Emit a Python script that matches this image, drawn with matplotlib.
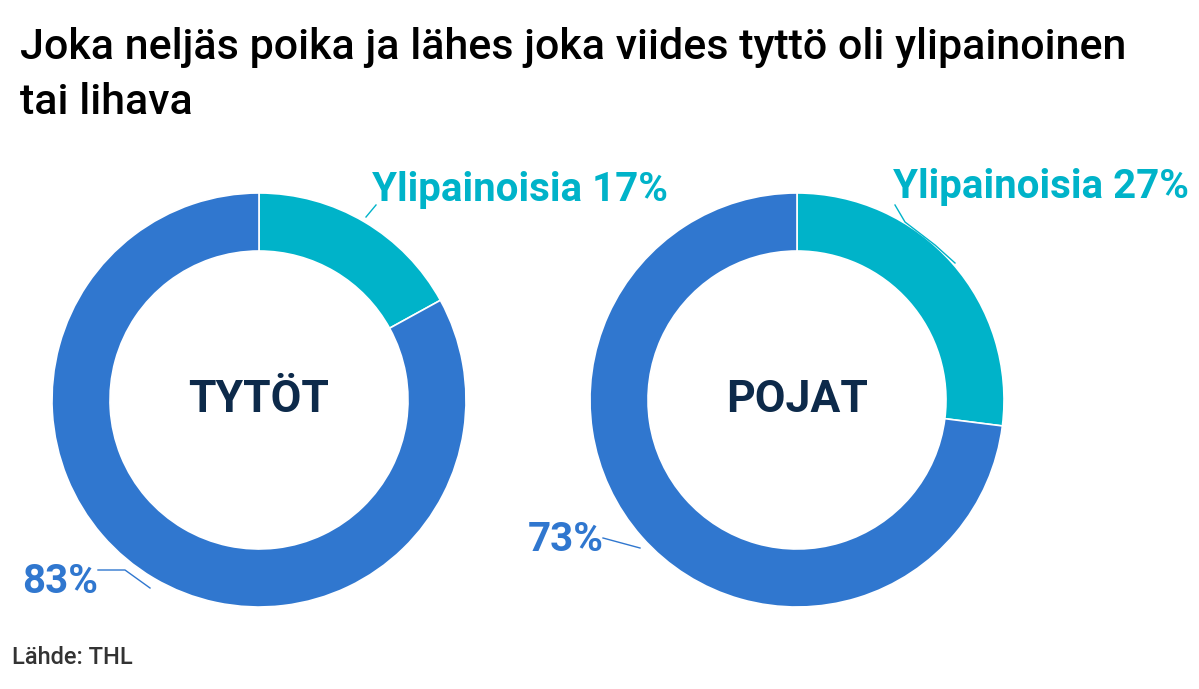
import matplotlib
matplotlib.use('Agg')
import matplotlib.pyplot as plt

groups = ['TYTÖT', 'POJAT']
overweight = [17, 27]
other = [83, 73]
title = 'Joka neljäs poika ja lähes joka viides tyttö oli ylipainoinen\ntai lihava'
source = 'Lähde: THL'

TEAL = '#00b3c9'
BLUE = '#3077cf'
NAVY = '#0d2a4a'
W, H = 1199, 689

fig = plt.figure(figsize=(W / 100, H / 100), dpi=100)
ax = fig.add_axes([0, 0, 1, 1])
centers = [(259, H - 400), (797, H - 400)]
R = 207
for (cx, cy), g, ov, ot in zip(centers, groups, overweight, other):
    ax.pie([ov, ot], colors=[TEAL, BLUE], startangle=90, counterclock=False,
           center=(cx, cy), radius=R,
           wedgeprops=dict(width=58, edgecolor='white', linewidth=1.2))
    ax.text(cx, cy, g, ha='center', va='center', fontsize=32, color=NAVY,
            family='Roboto', fontweight='bold')
ax.set_xlim(0, W); ax.set_ylim(0, H)
ax.set_aspect('equal'); ax.axis('off')

lab = dict(fontsize=29, family='Roboto', fontweight='bold')
ax.text(372, H - 190, f'Ylipainoisia {overweight[0]}%', color=TEAL, va='center', **lab)
ax.plot([366, 376], [H - 217, H - 205], color=TEAL, lw=1)
ax.text(893, H - 187, f'Ylipainoisia {overweight[1]}%', color=TEAL, va='center', **lab)
ax.plot([895, 905, 935, 955], [H - 205, H - 222, H - 245, H - 263], color=TEAL, lw=1)
ax.text(22, H - 582, f'{other[0]}%', color=BLUE, va='center', **lab)
ax.plot([98, 125, 150], [H - 570, H - 570, H - 588], color=BLUE, lw=1)
ax.text(528, H - 540, f'{other[1]}%', color=BLUE, va='center', **lab)
ax.plot([603, 640], [H - 538, H - 548], color=BLUE, lw=1)

fig.text(20 / W, 1 - 75 / H, title, fontsize=31, family='Roboto', fontweight='medium',
         va='center', linespacing=1.45, color='black')
fig.text(12 / W, 1 - 658 / H, source, fontsize=17, family='Roboto', fontweight='medium',
         va='center', color='#333333')
fig.savefig('out.png', dpi=100)
